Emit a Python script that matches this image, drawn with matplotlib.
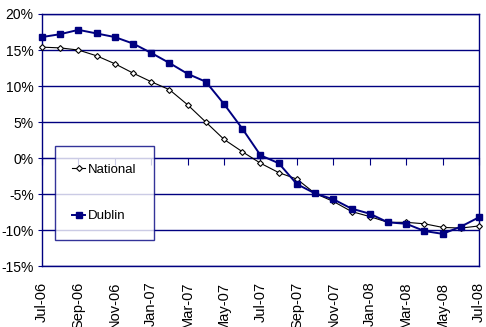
import numpy as np
import matplotlib.pyplot as plt
from matplotlib.ticker import FuncFormatter

# monthly change in house prices, Jul-06 to Jul-08
months = ['Jul-06', 'Aug-06', 'Sep-06', 'Oct-06', 'Nov-06', 'Dec-06',
          'Jan-07', 'Feb-07', 'Mar-07', 'Apr-07', 'May-07', 'Jun-07',
          'Jul-07', 'Aug-07', 'Sep-07', 'Oct-07', 'Nov-07', 'Dec-07',
          'Jan-08', 'Feb-08', 'Mar-08', 'Apr-08', 'May-08', 'Jun-08',
          'Jul-08']
national = [15.4, 15.3, 15.0, 14.2, 13.1, 11.8, 10.6, 9.5, 7.4, 5.0, 2.6, 0.9,
            -0.7, -2.0, -2.9, -4.9, -6.0, -7.4, -8.1, -8.9, -8.9, -9.1, -9.6,
            -9.7, -9.4]
dublin = [16.8, 17.2, 17.8, 17.3, 16.8, 15.9, 14.6, 13.2, 11.7, 10.6, 7.5, 4.1,
          0.4, -0.7, -3.6, -4.9, -5.7, -7.0, -7.7, -8.9, -9.1, -10.1, -10.5,
          -9.5, -8.2]

navy = '#000080'
plt.rcParams['font.family'] = ['Liberation Sans', 'DejaVu Sans']

fig = plt.figure(figsize=(4.86, 3.27), dpi=100)
ax = fig.add_axes([0.0864, 0.1856, 0.8992, 0.7716])

x = np.arange(len(months))
ax.plot(x, national, color='black', lw=0.8, marker='D', ms=3,
        mfc='white', mec='black', mew=0.8, label='National', clip_on=False, zorder=3)
ax.plot(x, dublin, color=navy, lw=1.4, marker='s', ms=4.2,
        mfc=navy, mec=navy, label='Dublin', clip_on=False, zorder=4)

ax.set_xlim(0, len(months) - 1)
ax.set_ylim(-15, 20)
ax.set_yticks(np.arange(-15, 21, 5))
ax.yaxis.set_major_formatter(FuncFormatter(lambda v, p: f'{v:.0f}%'))
ax.grid(axis='y', color=navy, lw=1)
ax.set_axisbelow(True)

for s in ax.spines.values():
    s.set_color(navy)
    s.set_linewidth(1)

ax.set_xticks(x[::2])
ax.set_xticklabels(months[::2], rotation=90, fontsize=10.5)
ax.tick_params(axis='x', length=0, pad=11)
ax.tick_params(axis='y', length=3, color=navy, labelsize=10, pad=3)

# category axis crosses at 0%, tick marks hang below it
sec = ax.secondary_xaxis(15 / 35)
sec.set_xticks(x[::2])
sec.set_xticklabels([])
sec.tick_params(length=5, color=navy, direction='out')
sec.spines['bottom'].set_color(navy)

leg = ax.legend(loc='upper left', bbox_to_anchor=(0.03, 0.475), fontsize=9.5,
                frameon=True, fancybox=False, edgecolor=navy, borderpad=1.3,
                labelspacing=2.6, handlelength=1.0, handletextpad=0.2,
                borderaxespad=0)
leg.get_frame().set_linewidth(1)

fig.savefig('out.png', dpi=100)
